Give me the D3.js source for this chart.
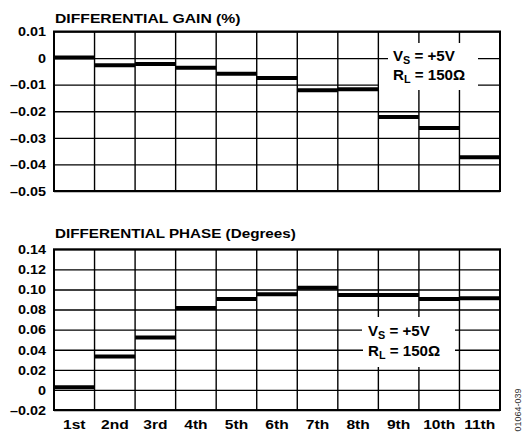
<!DOCTYPE html>
<html><head><meta charset="utf-8">
<script src="https://cdn.jsdelivr.net/npm/d3@7"></script>
<style>
html,body{margin:0;padding:0;background:#fff;}
svg{display:block;}
</style></head>
<body>
<svg id="c" width="525" height="441"></svg>
<script>
const categories = ["1st","2nd","3rd","4th","5th","6th","7th","8th","9th","10th","11th"];
const gainValues = [0.0002,-0.0027,-0.0022,-0.0036,-0.0059,-0.0075,-0.0121,-0.0117,-0.0222,-0.0263,-0.0373];
const phaseValues = [0.0026,0.0333,0.0523,0.0816,0.0905,0.0953,0.1016,0.0946,0.0946,0.0906,0.0913];
const gainTicks = [0.01,0,-0.01,-0.02,-0.03,-0.04,-0.05];
const gainTickLabels = ["0.01","0","\u20130.01","\u20130.02","\u20130.03","\u20130.04","\u20130.05"];
const phaseTicks = [0.14,0.12,0.10,0.08,0.06,0.04,0.02,0,-0.02];
const phaseTickLabels = ["0.14","0.12","0.10","0.08","0.06","0.04","0.02","0","\u20130.02"];
const gainTitle = "DIFFERENTIAL GAIN (%)";
const phaseTitle = "DIFFERENTIAL PHASE (Degrees)";
const figId = "01064-039";

const svg = d3.select("#c");
const FONT = "'Liberation Sans', Arial, Helvetica, sans-serif";
const SX = 1.2;
const L = 54, R = 500;

const x = d3.scaleBand().domain(categories).range([L, R]).paddingInner(0).paddingOuter(0);

function stretchedText(g, tx, ty, str, size, anchor, sx) {
  return g.append("text")
    .attr("transform", `translate(${tx},${ty}) scale(${sx},1)`)
    .attr("text-anchor", anchor)
    .attr("font-family", FONT).attr("font-weight", "bold")
    .attr("font-size", size).attr("fill", "#000")
    .text(str);
}

function panel(cfg) {
  const g = svg.append("g");
  const y = d3.scaleLinear().domain(cfg.domain).range([cfg.bottom, cfg.top]);
  const ax = d3.axisLeft(y).tickValues(cfg.ticks)
    .tickFormat((d, i) => cfg.labels[i]).tickSize(-(R - L)).tickPadding(0);
  const axg = g.append("g").attr("transform", `translate(${L},0)`).call(ax);
  axg.select(".domain").remove();
  axg.selectAll(".tick line").attr("stroke", "#000").attr("stroke-width", 1.4);
  axg.selectAll(".tick text")
    .attr("x", 0).attr("dy", "0.36em")
    .attr("transform", `translate(-8,0) scale(${SX},1)`)
    .attr("font-family", FONT).attr("font-weight", "bold")
    .attr("font-size", 12).attr("fill", "#000");
  g.append("g").selectAll("line").data(categories.slice(1)).join("line")
    .attr("x1", d => x(d)).attr("x2", d => x(d))
    .attr("y1", cfg.top).attr("y2", cfg.bottom)
    .attr("stroke", "#000").attr("stroke-width", 1.4);
  cfg.boxes.forEach(b => {
    g.append("rect").attr("x", b[0]).attr("y", b[1]).attr("width", b[2] - b[0]).attr("height", b[3] - b[1]).attr("fill", "#fff");
  });
  g.append("rect").attr("x", L).attr("y", cfg.top).attr("width", R - L).attr("height", cfg.bottom - cfg.top)
    .attr("fill", "none").attr("stroke", "#000").attr("stroke-width", 2);
  g.append("g").selectAll("line").data(cfg.values).join("line")
    .attr("x1", (d, i) => x(categories[i])).attr("x2", (d, i) => x(categories[i]) + x.bandwidth())
    .attr("y1", d => y(d)).attr("y2", d => y(d))
    .attr("stroke", "#000").attr("stroke-width", 4);
  stretchedText(g, 55, cfg.titleY, cfg.title, 12, "start", cfg.titleSX);
  const a1 = stretchedText(g, cfg.ann[0], cfg.ann[1], "", 14, "start", 1.08);
  a1.append("tspan").text("V");
  a1.append("tspan").attr("font-size", 10).attr("dy", 3).text("S");
  a1.append("tspan").attr("dy", -3).text(" = +5V");
  const a2 = stretchedText(g, cfg.ann[0], cfg.ann[2], "", 14, "start", 1.08);
  a2.append("tspan").text("R");
  a2.append("tspan").attr("font-size", 10).attr("dy", 3).text("L");
  a2.append("tspan").attr("dy", -3).text(" = 150\u03A9");
  return g;
}

panel({domain: [-0.05, 0.01], top: 31.5, bottom: 191, ticks: gainTicks, labels: gainTickLabels,
  values: gainValues, title: gainTitle, titleY: 23, titleSX: 1.31,
  boxes: [[388, 43, 478, 70], [379, 70, 478, 90]], ann: [393, 61, 80]});
panel({domain: [-0.02, 0.14], top: 249.3, bottom: 410, ticks: phaseTicks, labels: phaseTickLabels,
  values: phaseValues, title: phaseTitle, titleY: 238, titleSX: 1.27,
  boxes: [[362, 317, 455, 340], [363, 340, 455, 367]], ann: [368, 336, 356]});

const xl = svg.append("g");
categories.forEach(c => {
  stretchedText(xl, x(c) + x.bandwidth() / 2, 429, c, 13, "middle", 1.2);
});

svg.append("text").attr("transform", "translate(521,410) rotate(-90)")
  .attr("text-anchor", "middle").attr("font-family", FONT).attr("font-size", 9).attr("fill", "#333")
  .text(figId);
</script>
</body></html>
